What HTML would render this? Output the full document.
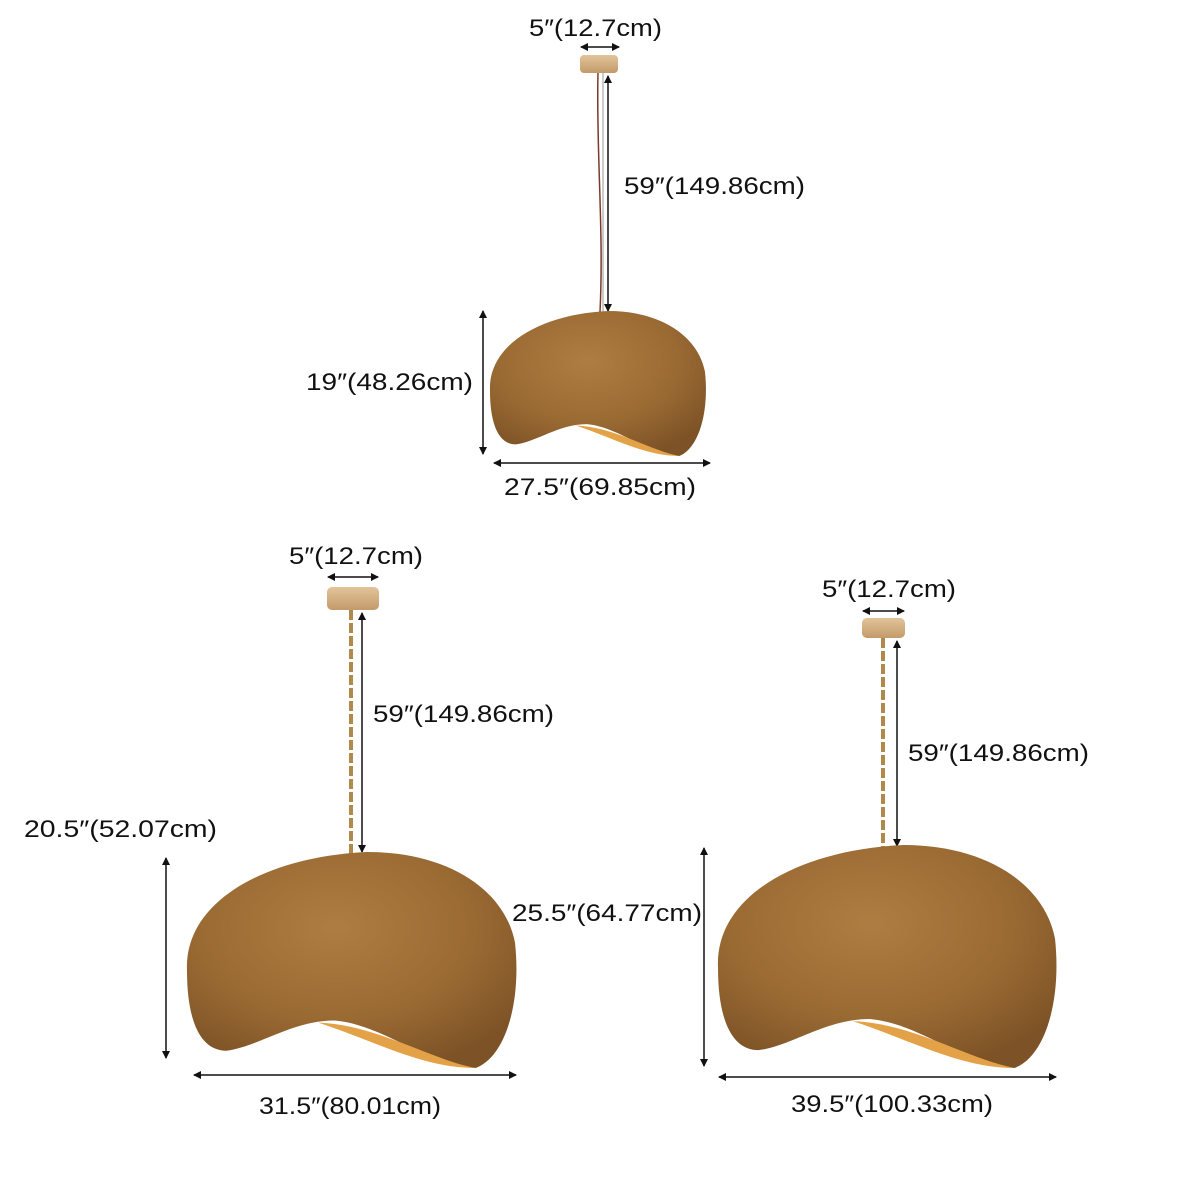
<!DOCTYPE html>
<html><head><meta charset="utf-8"><style>
html,body{margin:0;padding:0;background:#fff;}
svg{display:block}
text{font-family:"Liberation Sans",sans-serif;font-size:24px;fill:#111;}
</style></head><body>
<svg width="1200" height="1200" viewBox="0 0 1200 1200" xmlns="http://www.w3.org/2000/svg">
<defs>
<radialGradient id="g" cx="45%" cy="35%" r="70%">
<stop offset="0" stop-color="#ad7d42"/><stop offset="0.6" stop-color="#9a6a33"/><stop offset="1" stop-color="#7c5226"/>
</radialGradient>
<linearGradient id="c" x1="0" y1="0" x2="0" y2="1"><stop offset="0" stop-color="#e2c49a"/><stop offset="1" stop-color="#c39a6a"/></linearGradient>
<marker id="a" markerWidth="8" markerHeight="8" refX="7" refY="4" orient="auto-start-reverse" markerUnits="userSpaceOnUse"><path d="M0,0 L8,4 L0,8 Z" fill="#111"/></marker>
<g id="shade">
<path d="M0,55 C-1,22 25,2 55,0 C80,0 97,18 100,42 C102,70 97,95 88,100 C72,98 60,80 45,78 C32,78 22,90 12,92 C4,92 0,78 0,55 Z" fill="url(#g)"/>
<path d="M40,79 C58,80 74,96 88,100 C72,100 58,88 40,79 Z" fill="#e3a248"/>
</g>
</defs>
<g stroke="#111" stroke-width="1.5" fill="none" marker-start="url(#a)" marker-end="url(#a)">
<line x1="581" y1="47" x2="619" y2="47"/>
<line x1="608" y1="76" x2="608" y2="311"/>
<line x1="483" y1="311" x2="483" y2="454"/>
<line x1="494" y1="463" x2="710" y2="463"/>
<line x1="328" y1="577" x2="378" y2="577"/>
<line x1="362" y1="613" x2="362" y2="852"/>
<line x1="166" y1="858" x2="166" y2="1058"/>
<line x1="194" y1="1075" x2="516" y2="1075"/>
<line x1="863" y1="611" x2="904" y2="611"/>
<line x1="897" y1="641" x2="897" y2="846"/>
<line x1="704" y1="848" x2="704" y2="1066"/>
<line x1="719" y1="1077" x2="1056" y2="1077"/>
</g>
<rect x="580" y="55" width="38" height="18" rx="4" fill="url(#c)"/>
<path d="M598,73 C596,150 604,230 600,312" stroke="#7a3b2a" stroke-width="1.5" fill="none"/>
<line x1="603" y1="73" x2="603" y2="312" stroke="#999" stroke-width="1"/>
<use href="#shade" transform="translate(490,311) scale(2.15,1.45)"/>
<rect x="327" y="587" width="52" height="23" rx="5" fill="url(#c)"/>
<line x1="351" y1="610" x2="351" y2="855" stroke="#b08a4a" stroke-width="4" stroke-dasharray="10 3"/>
<use href="#shade" transform="translate(187,852) scale(3.28,2.16)"/>
<rect x="862" y="618" width="43" height="20" rx="5" fill="url(#c)"/>
<line x1="883" y1="638" x2="883" y2="848" stroke="#b08a4a" stroke-width="4" stroke-dasharray="10 3"/>
<use href="#shade" transform="translate(718,845) scale(3.37,2.23)"/>
<text x="529" y="36" textLength="133" lengthAdjust="spacingAndGlyphs">5″(12.7cm)</text>
<text x="624" y="194" textLength="181" lengthAdjust="spacingAndGlyphs">59″(149.86cm)</text>
<text x="306" y="390" textLength="167" lengthAdjust="spacingAndGlyphs">19″(48.26cm)</text>
<text x="504" y="495" textLength="192" lengthAdjust="spacingAndGlyphs">27.5″(69.85cm)</text>
<text x="289" y="564" textLength="134" lengthAdjust="spacingAndGlyphs">5″(12.7cm)</text>
<text x="373" y="722" textLength="181" lengthAdjust="spacingAndGlyphs">59″(149.86cm)</text>
<text x="24" y="837" textLength="193" lengthAdjust="spacingAndGlyphs">20.5″(52.07cm)</text>
<text x="259" y="1114" textLength="182" lengthAdjust="spacingAndGlyphs">31.5″(80.01cm)</text>
<text x="822" y="597" textLength="134" lengthAdjust="spacingAndGlyphs">5″(12.7cm)</text>
<text x="908" y="761" textLength="181" lengthAdjust="spacingAndGlyphs">59″(149.86cm)</text>
<text x="512" y="921" textLength="190" lengthAdjust="spacingAndGlyphs">25.5″(64.77cm)</text>
<text x="791" y="1112" textLength="202" lengthAdjust="spacingAndGlyphs">39.5″(100.33cm)</text>
</svg>
</body></html>
